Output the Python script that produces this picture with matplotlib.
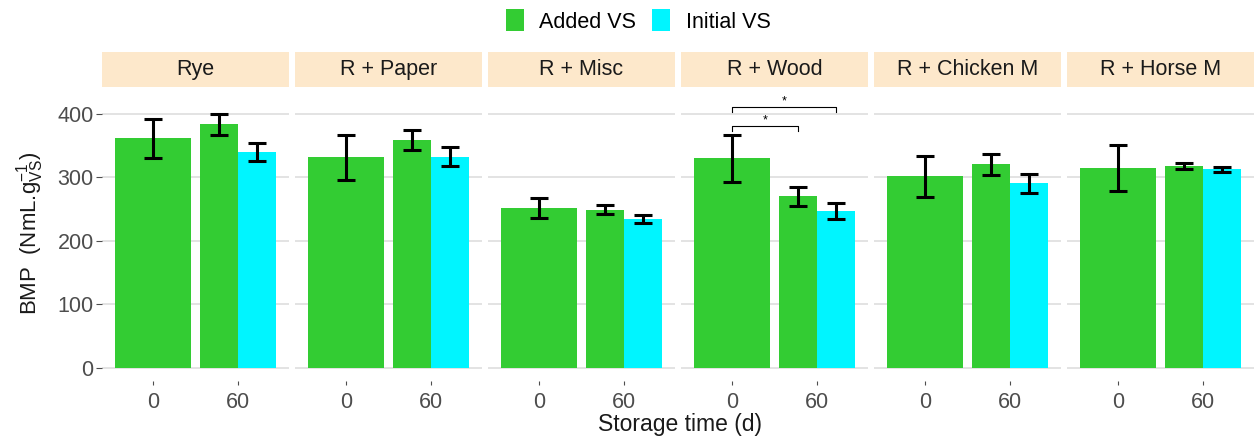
import matplotlib
matplotlib.use("Agg")
import matplotlib.pyplot as plt
from matplotlib.patches import Patch, Rectangle

plt.rcParams['font.family'] = ['Liberation Sans', 'DejaVu Sans']
plt.rcParams['mathtext.fontset'] = 'custom'
plt.rcParams['mathtext.rm'] = 'Liberation Sans'
plt.rcParams['mathtext.it'] = 'Liberation Sans:italic'
plt.rcParams['mathtext.default'] = 'regular'

panels = ['Rye', 'R + Paper', 'R + Misc', 'R + Wood', 'R + Chicken M', 'R + Horse M']
times = ['0', '60']

# day 0 (Added VS only)
d0_mean = [361, 331, 251, 330, 301, 314]
d0_sd = [31, 36, 16, 37, 33, 36]
# day 60
added_mean = [383, 358, 249, 270, 320, 318]
added_sd = [16, 16, 7, 15, 17, 5]
initial_mean = [340, 332, 234, 247, 290, 312]
initial_sd = [14, 15, 7, 13, 15, 4]

# significance brackets in R + Wood: (start bar, end bar, height)
sig_panel = 3
sig_pairs = [(0, 1, 381), (0, 2, 411)]

green = '#33CC33'
cyan = '#00F5FF'
strip_col = '#FDE8CB'
grid_col = '#DEDEDE'
tick_col = '#4D4D4D'

W, H = 1255, 440
fig = plt.figure(figsize=(W / 100, H / 100), dpi=100)

left, pw, gap = 102, 187, 6
top, bottom = 92, 381
axes = []
for i, name in enumerate(panels):
    x0 = left + i * (pw + gap)
    ax = fig.add_axes([x0 / W, (H - bottom) / H, pw / W, (bottom - top) / H])
    axes.append(ax)

    err_kw = dict(ecolor='black', elinewidth=2.2, capsize=6.5, capthick=2.2)
    ax.bar(1, d0_mean[i], width=0.9, color=green, yerr=d0_sd[i], error_kw=err_kw, zorder=2)
    ax.bar(2 - 0.225, added_mean[i], width=0.45, color=green, yerr=added_sd[i],
           error_kw=err_kw, zorder=2)
    ax.bar(2 + 0.225, initial_mean[i], width=0.45, color=cyan, yerr=initial_sd[i],
           error_kw=err_kw, zorder=2)

    ax.set_xlim(0.4, 2.6)
    ax.set_ylim(-21, 434)
    ax.set_xticks([1, 2])
    ax.set_xticklabels(times)
    ax.set_yticks([0, 100, 200, 300, 400])
    ax.grid(axis='y', color=grid_col, lw=1.2, zorder=0)
    ax.set_axisbelow(True)
    for s in ax.spines.values():
        s.set_visible(False)
    ax.tick_params(axis='x', length=3, width=0.8, color=tick_col, labelcolor=tick_col,
                   labelsize=15.5, pad=5)
    if i == 0:
        ax.tick_params(axis='y', length=4, width=0.8, color=tick_col, labelcolor=tick_col,
                       labelsize=15.5, pad=2)
    else:
        ax.tick_params(axis='y', left=False, labelleft=False)

    # strip
    ax.add_patch(Rectangle((0, 1 + 5 / 289), 1, 35 / 289, transform=ax.transAxes,
                           facecolor=strip_col, edgecolor='none', clip_on=False))
    ax.text(0.5, 1 + 22.5 / 289, name, transform=ax.transAxes, ha='center', va='center',
            fontsize=15.5, color='#1A1A1A')

# significance brackets
ax = axes[sig_panel]
xpos = [1, 2 - 0.225, 2 + 0.225]
for a, b, h in sig_pairs:
    ax.plot([xpos[a], xpos[a], xpos[b], xpos[b]], [h - 8, h, h, h - 8],
            color='black', lw=0.8, clip_on=False, zorder=3)
    ax.text((xpos[a] + xpos[b]) / 2, h + 8, '*', ha='center', va='center', fontsize=9)

fig.text(30 / W, 1 - 233 / H, r'BMP  (NmL.g$_{VS}^{-1}$)', rotation=90, ha='center',
         va='center', fontsize=16, color='#1A1A1A')
fig.text(680 / W, 1 - 424 / H, 'Storage time (d)', ha='center', va='center', fontsize=16.5,
         color='#1A1A1A')

handles = [Patch(facecolor=green, label='Added VS'), Patch(facecolor=cyan, label='Initial VS')]
fig.legend(handles=handles, loc='center', bbox_to_anchor=(638 / W, 1 - 21 / H), ncol=2,
           frameon=False, fontsize=15.5, handlelength=0.85, handleheight=1.2, handletextpad=0.7,
           columnspacing=0.75)

fig.savefig('out.png', dpi=100)
